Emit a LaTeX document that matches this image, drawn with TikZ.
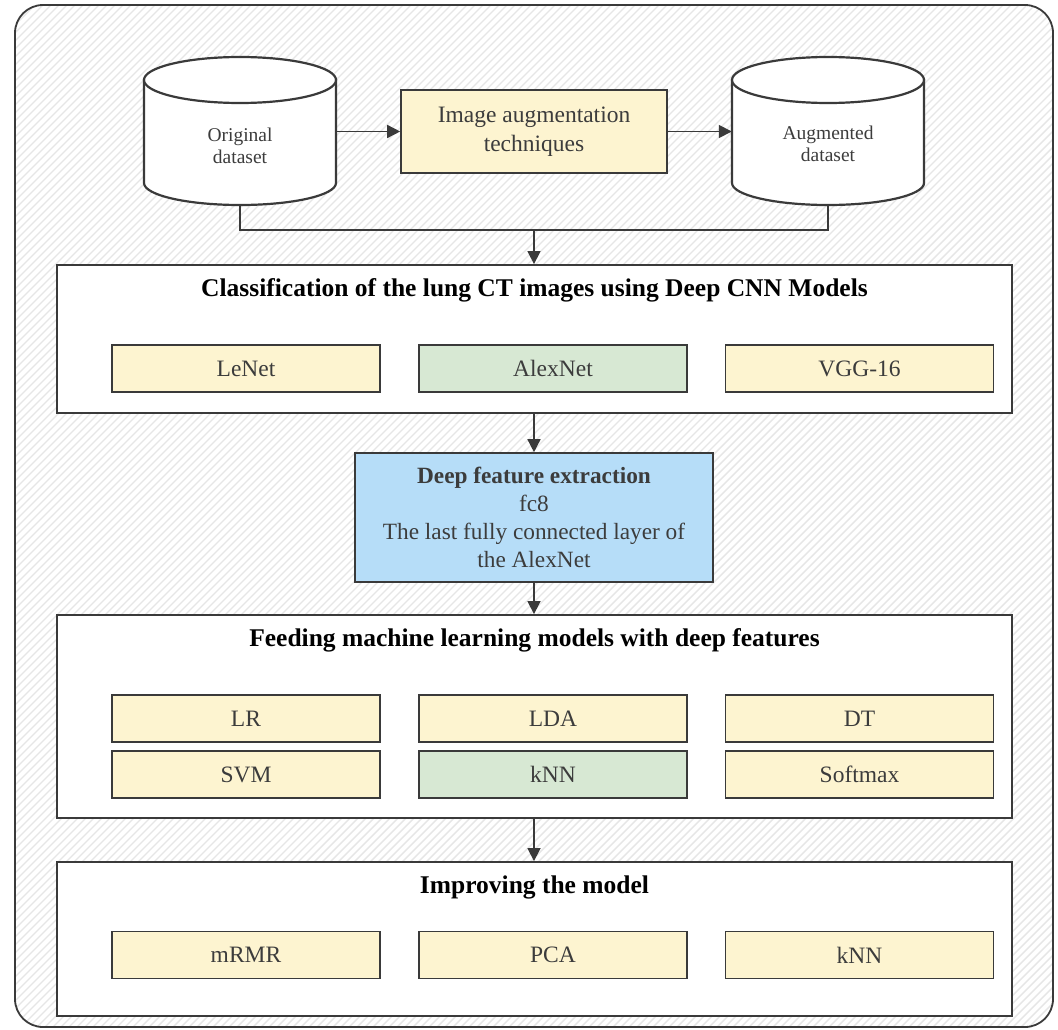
\documentclass[tikz,border=0pt]{standalone}
\usepackage{fontspec}
\setmainfont{Liberation Serif}
\usetikzlibrary{arrows.meta,calc}
\definecolor{edge}{HTML}{3A3A3A}
\definecolor{yell}{HTML}{FDF4D0}
\definecolor{gree}{HTML}{D7E8D3}
\definecolor{blue}{HTML}{B6DDF8}
\definecolor{hatch}{HTML}{E6E6E6}
\definecolor{txtgray}{HTML}{3C3C3C}
\tikzset{
  bigbox/.style={draw=edge, line width=1.8pt, fill=white, inner sep=0pt, minimum width=955pt},
  subbox/.style={draw=edge, line width=1.6pt, fill=yell, inner sep=0pt, minimum width=268pt, minimum height=47pt,
    text=txtgray, font=\fontsize{23.5}{28}\selectfont},
  greenbox/.style={subbox, fill=gree},
  ttl/.style={font=\fontsize{25.5}{30}\selectfont\bfseries, text=black, inner sep=0pt},
  cylanchor/.style={inner sep=0pt, minimum height=148pt, minimum width=192pt},
  cyltext/.style={align=center, text=txtgray, font=\fontsize{19.5}{22}\selectfont, inner sep=0pt},
  cyl/.style={draw=edge, line width=2.2pt, fill=white},
  arr/.style={draw=edge, line width=1.5pt, -{Triangle[length=13pt,width=13pt]}},
  conn/.style={draw=edge, line width=1.5pt},
}
\begin{document}
\begin{tikzpicture}[x=1pt,y=-1pt]
\useasboundingbox (0,0) rectangle (1058,1030);
% background frame with hatching
\begin{scope}
  \clip[rounded corners=28pt] (15,5) rectangle (1053,1027);
  \fill[white] (15,5) rectangle (1053,1027);
  \foreach \i in {-1040,-1032,...,1060} {
    \draw[hatch, line width=1.4pt] (\i,1040) -- ({\i+1045},-5);
  }
\end{scope}
\draw[edge, line width=1.8pt, rounded corners=28pt] (15,5) rectangle (1053,1027);

% anchor nodes for cylinders
\node[cylanchor] (orig) at (240,131) {};
\node[cylanchor] (aug) at (828,131) {};

% image augmentation box
\node[draw=edge, line width=1.6pt, fill=yell, minimum width=266pt, minimum height=83pt, inner sep=0pt,
  align=center, text=txtgray, font=\fontsize{23.5}{29}\selectfont] (imgaug) at (534,131.5)
  {Image augmentation\\techniques};

% big boxes
\node[bigbox, minimum height=148pt] (cls) at (534.5,339) {};
\node[bigbox, minimum height=203pt] (feed) at (534.5,716.5) {};
\node[bigbox, minimum height=154pt] (imp) at (534.5,939) {};

% deep feature box
\node[draw=edge, line width=1.6pt, fill=blue, minimum width=358pt, minimum height=129pt, inner sep=0pt,
  align=center, text=txtgray, font=\fontsize{23.3}{28}\selectfont] (deep) at (534,517.5)
  {\textbf{Deep feature extraction}\\fc8\\The last fully connected layer of\\the AlexNet};

% connectors (drawn before cylinders so they tuck under)
\coordinate (j1) at (534,230);
\draw[conn] (orig.south) |- (j1) -| (aug.south);
\draw[arr] (j1) -- (j1 |- cls.north);
\draw[arr] (orig.east |- imgaug.west) -- (imgaug.west);
\draw[arr] (imgaug.east) -- (aug.west |- imgaug.east);
\draw[arr] (cls.south -| deep.north) -- (deep.north);
\draw[arr] (deep.south) -- (deep.south |- feed.north);
\draw[arr] (feed.south -| deep.south) -- (deep.south |- imp.north);

% cylinders
\draw[cyl] (144,80) -- (144,183) arc[start angle=180, end angle=360, x radius=96pt, y radius=22pt] -- (336,80) -- cycle;
\draw[cyl] (240,80) ellipse [x radius=96pt, y radius=23pt];
\draw[cyl] (732,80) -- (732,183) arc[start angle=180, end angle=360, x radius=96pt, y radius=22pt] -- (924,80) -- cycle;
\draw[cyl] (828,80) ellipse [x radius=96pt, y radius=23pt];
\node[cyltext] (origtxt) at (240,146) {Original\\dataset};
\node[cyltext] (augtxt) at (828,144) {Augmented\\dataset};

% titles
\node[ttl] (clst) at (534.5,290) {Classification of the lung CT images using Deep CNN Models};
\node[ttl] (feedt) at (534.5,640) {Feeding machine learning models with deep features};
\node[ttl] (impt) at (534.5,887) {Improving the model};

% sub boxes
\node[subbox] (lenet) at (246,368.5) {LeNet};
\node[greenbox] (alex) at (553,368.5) {AlexNet};
\node[subbox] (vgg) at (859.5,368.5) {VGG-16};

\node[subbox] (lr) at (246,718.5) {LR};
\node[subbox] (lda) at (553,718.5) {LDA};
\node[subbox] (dt) at (859.5,718.5) {DT};
\node[subbox] (svm) at (246,774.5) {SVM};
\node[greenbox] (knn1) at (553,774.5) {kNN};
\node[subbox] (soft) at (859.5,774.5) {Softmax};

\node[subbox] (mrmr) at (246,955) {mRMR};
\node[subbox] (pca) at (553,955) {PCA};
\node[subbox] (knn2) at (859.5,955) {kNN};
\end{tikzpicture}
\end{document}
